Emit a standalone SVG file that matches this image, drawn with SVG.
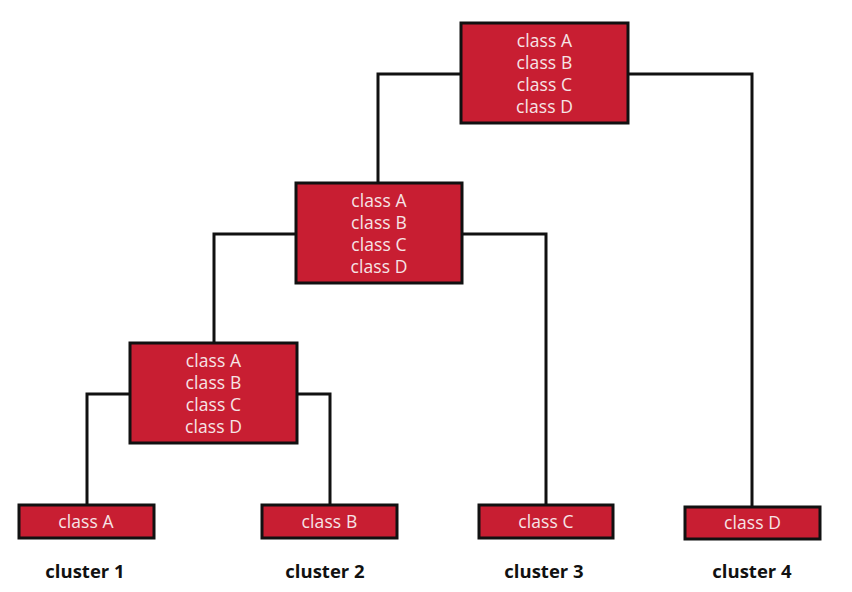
<svg xmlns="http://www.w3.org/2000/svg" width="852" height="592" viewBox="0 0 852 592">
<style>
.box{fill:#c81e32;stroke:#111;stroke-width:3}
.t{font-family:"Open Sans","Noto Sans",sans-serif;font-size:17.5px;fill:#f6e4e6;text-anchor:middle;letter-spacing:0.1px}
.lbl{font-family:"Open Sans","Noto Sans",sans-serif;font-size:18.5px;font-weight:bold;fill:#111;text-anchor:middle}
.c{fill:none;stroke:#111;stroke-width:3}
</style>
<rect width="852" height="592" fill="#fff"/>
<g id="connectors">
<polyline class="c" points="461,74 378,74 378,184"/>
<polyline class="c" points="628,74 752,74 752,508"/>
<polyline class="c" points="296,234 214,234 214,344"/>
<polyline class="c" points="461,234 546,234 546,505"/>
<polyline class="c" points="130,394 87,394 87,505"/>
<polyline class="c" points="297,394 330,394 330,505"/>
</g>
<g id="n-root">
<rect class="box" x="461" y="23" width="167" height="100"/>
<text class="t" x="544.5" y="46.5">class A</text>
<text class="t" x="544.5" y="68.5">class B</text>
<text class="t" x="544.5" y="90.5">class C</text>
<text class="t" x="544.5" y="112.5">class D</text>
</g>
<g id="n-mid">
<rect class="box" x="296" y="183" width="166" height="100"/>
<text class="t" x="379" y="206.5">class A</text>
<text class="t" x="379" y="228.5">class B</text>
<text class="t" x="379" y="250.5">class C</text>
<text class="t" x="379" y="272.5">class D</text>
</g>
<g id="n-low">
<rect class="box" x="130" y="343" width="167" height="100"/>
<text class="t" x="213.5" y="366.5">class A</text>
<text class="t" x="213.5" y="388.5">class B</text>
<text class="t" x="213.5" y="410.5">class C</text>
<text class="t" x="213.5" y="432.5">class D</text>
</g>
<g id="leaf-a">
<rect class="box" x="19" y="505" width="135" height="33"/>
<text class="t" x="86" y="527.5">class A</text>
</g>
<g id="leaf-b">
<rect class="box" x="262" y="505" width="135" height="33"/>
<text class="t" x="329.5" y="527.5">class B</text>
</g>
<g id="leaf-c">
<rect class="box" x="479" y="505" width="134" height="33"/>
<text class="t" x="546" y="527.5">class C</text>
</g>
<g id="leaf-d">
<rect class="box" x="685" y="507" width="135" height="32"/>
<text class="t" x="752.5" y="528.5">class D</text>
</g>
<g id="labels">
<text class="lbl" x="85" y="578">cluster 1</text>
<text class="lbl" x="325" y="578">cluster 2</text>
<text class="lbl" x="544" y="578">cluster 3</text>
<text class="lbl" x="752" y="578">cluster 4</text>
</g>
</svg>
